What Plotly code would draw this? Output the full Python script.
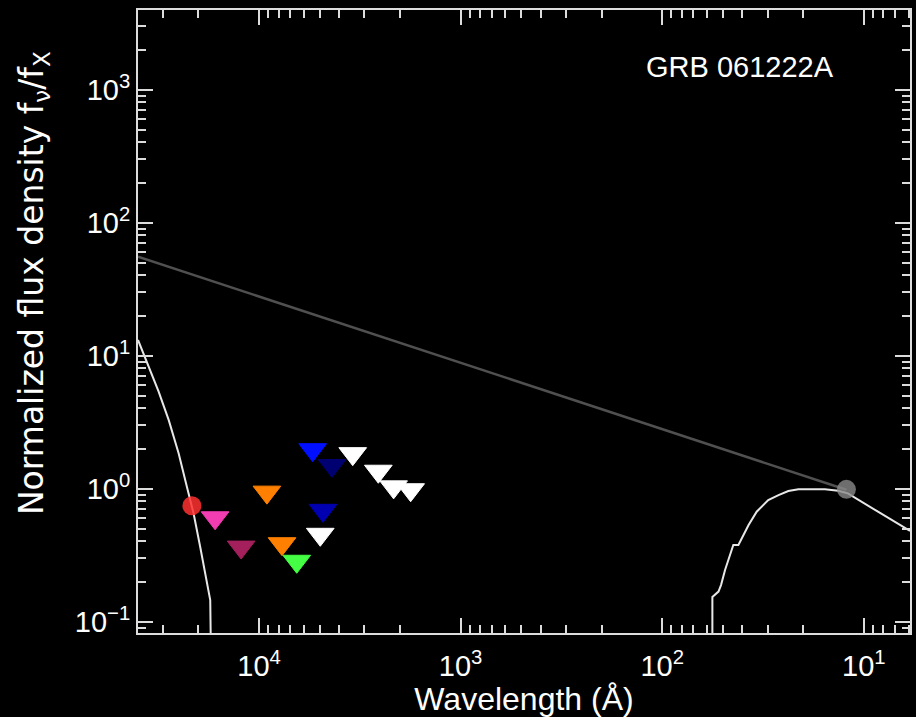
import plotly.graph_objects as go

# ---------------- data ----------------
# optical/NIR absorbed model curve (wavelength in Angstrom, normalized flux)
opt_model_wl = [39850, 35240, 31480, 28050, 25060, 22800, 21130, 19590, 18370, 17460, 17300]
opt_model_f = [13.1, 8.24, 5.35, 3.27, 1.84, 1.03, 0.652, 0.365, 0.217, 0.145, 0.05]

# X-ray absorbed model curve
xray_model_wl = [56.4, 56.4, 52.6, 51.1, 48.8, 46.0, 44.4, 41.9, 40.4, 37.3, 34.0, 29.8,
                 26.5, 23.7, 21.1, 15.6, 13.4, 12.0, 8.51, 5.9]
xray_model_f = [0.05, 0.153, 0.168, 0.188, 0.244, 0.316, 0.376, 0.376, 0.423, 0.532, 0.670,
                0.820, 0.893, 0.957, 0.986, 0.986, 0.962, 0.920, 0.670, 0.48]

# unabsorbed power law (grey line)
pl_wl = [39850, 12.2]
pl_f = [55.4, 0.98]

# detection (red circle)
det_wl = [21530]
det_f = [0.743]

# upper limits (triangles)
ul_wl = [16520, 12270, 9140, 7690, 6500, 5420, 4345, 4820, 4970, 3430, 2560, 2150, 1770]
ul_f = [0.603, 0.363, 0.94, 0.385, 0.284, 1.96, 1.49, 0.686, 0.453, 1.83, 1.35, 1.03, 0.98]
ul_colors = ["#f23cb2", "#a3205c", "#ff8000", "#ff8000", "#44ff44", "#0010ff", "#000070",
             "#0000b0", "#ffffff", "#ffffff", "#ffffff", "#ffffff", "#ffffff"]

# X-ray normalisation point
xr_wl = [12.2]
xr_f = [0.986]

x_tickvals = [1e4, 1e3, 1e2, 1e1]
x_ticktext = ["10<sup>4</sup>", "10<sup>3</sup>", "10<sup>2</sup>", "10<sup>1</sup>"]
y_tickvals = [1e-1, 1e0, 1e1, 1e2, 1e3]
y_ticktext = ["10<sup>−1</sup>", "10<sup>0</sup>", "10<sup>1</sup>", "10<sup>2</sup>", "10<sup>3</sup>"]

label = "GRB 061222A"
y_title = "Normalized flux density f<sub>ν</sub>/f<sub>X</sub>"
x_title = "Wavelength (Å)"

# ---------------- figure ----------------
def minor_vals(lo, hi):
    return [k * 10 ** n for n in range(lo, hi) for k in range(2, 10)]

AX = "#dcdcdc"
FONT = "Liberation Sans, Arial, Helvetica, sans-serif"
WIDE = "DejaVu Sans, Liberation Sans, sans-serif"

fig = go.Figure()
fig.add_trace(go.Scatter(x=opt_model_wl, y=opt_model_f, mode="lines",
                         line=dict(color="#e8e8e8", width=2)))
fig.add_trace(go.Scatter(x=xray_model_wl, y=xray_model_f, mode="lines",
                         line=dict(color="#e8e8e8", width=2)))
fig.add_trace(go.Scatter(x=pl_wl, y=pl_f, mode="lines",
                         line=dict(color="#505050", width=2.5)))
fig.add_trace(go.Scatter(x=det_wl, y=det_f, mode="markers",
                         marker=dict(symbol="circle", size=19, color="#ff3030", opacity=0.85,
                                     line=dict(width=0))))
fig.add_trace(go.Scatter(x=ul_wl, y=ul_f, mode="markers",
                         marker=dict(symbol="triangle-down", size=24, color=ul_colors,
                                     line=dict(width=1, color=ul_colors))))
fig.add_trace(go.Scatter(x=xr_wl, y=xr_f, mode="markers",
                         marker=dict(symbol="circle", size=19, color="#8a8a8a", opacity=0.8,
                                     line=dict(width=0))))

fig.add_annotation(text=label, x=0.780, y=0.9085, xref="paper", yref="paper",
                   xanchor="center", yanchor="middle", showarrow=False,
                   font=dict(size=29, color="white", family=FONT))
# y-axis title drawn as a rotated annotation to place it exactly
fig.add_annotation(text=y_title, x=-0.1344, y=0.562, xref="paper", yref="paper",
                   xanchor="center", yanchor="middle", showarrow=False, textangle=-90,
                   font=dict(size=33, color="white", family=WIDE))

common = dict(showline=True, linecolor=AX, linewidth=2, mirror="allticks",
              ticks="inside", ticklen=15, tickwidth=1.5, tickcolor=AX,
              showgrid=False, zeroline=False,
              tickfont=dict(size=29, color="white", family=FONT))

fig.update_xaxes(type="log", range=[4.6004, 0.771],
                 tickvals=x_tickvals, ticktext=x_ticktext, ticklabelstandoff=6,
                 minor=dict(tickvals=minor_vals(0, 5), ticks="inside", ticklen=8,
                            tickwidth=1.5, tickcolor=AX, showgrid=False),
                 title=dict(text=x_title, standoff=6,
                            font=dict(size=32, color="white", family=FONT)),
                 **common)
fig.update_yaxes(type="log", range=[-1.086, 3.598],
                 tickvals=y_tickvals, ticktext=y_ticktext,
                 minor=dict(tickvals=minor_vals(-2, 4), ticks="inside", ticklen=8,
                            tickwidth=1.5, tickcolor=AX, showgrid=False),
                 **common)

fig.update_layout(width=916, height=717, paper_bgcolor="black", plot_bgcolor="black",
                  margin=dict(l=138, r=4, t=10, b=84), showlegend=False,
                  font=dict(family=FONT, color="white"))

fig.write_html("out.html", config={"displayModeBar": False},
               post_script="document.body.style.margin='0';"
                           "document.body.style.background='black';")
